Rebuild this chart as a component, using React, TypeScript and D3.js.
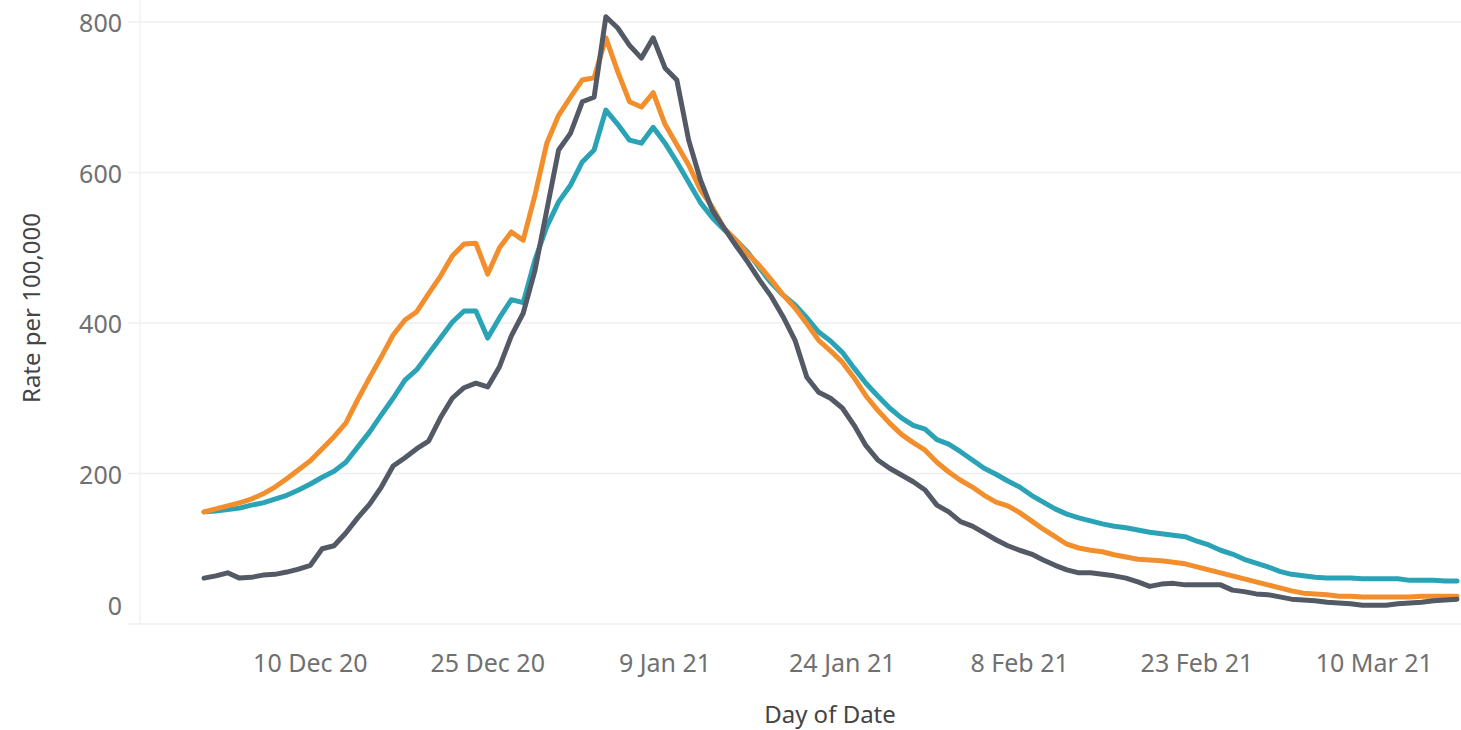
import React from "react";
import * as d3 from "d3";

const startDate = new Date(Date.UTC(2020, 11, 1));
const dayCount = 107;

const grayValues = [
  61, 64, 68, 61, 62, 65, 66, 69, 73, 78,
  100, 104, 121, 141, 159, 182, 210, 221, 233, 243,
  274, 300, 314, 320, 315, 342, 383, 413, 470, 550,
  630, 652, 694, 700, 807, 792, 769, 752, 779, 739,
  723, 643, 590, 550, 526, 503, 481, 457, 435, 408,
  377, 328, 308, 300, 287, 264, 237, 218, 207, 198,
  189, 178, 158, 149, 136, 130, 121, 112, 104, 98,
  93, 85, 78, 72, 68, 68, 66, 64, 61, 56,
  50, 53, 54, 52, 52, 52, 52, 45, 43, 40,
  39, 36, 33, 32, 31, 29, 28, 27, 25, 25,
  25, 27, 28, 29, 31, 32, 33,
];

const orangeValues = [
  149, 153, 157, 161, 166, 173, 182, 193, 205, 217,
  233, 249, 267, 298, 327, 355, 384, 404, 415, 439,
  462, 489, 505, 506, 465, 500, 521, 510, 570, 639,
  676, 700, 723, 726, 779, 734, 694, 687, 706, 664,
  637, 610, 577, 554, 526, 510, 492, 476, 457, 437,
  420, 399, 377, 363, 348, 327, 303, 284, 267, 252,
  241, 231, 215, 202, 191, 182, 171, 162, 157, 148,
  137, 126, 116, 106, 101, 98, 96, 92, 89, 86,
  85, 84, 82, 80, 76, 72, 68, 64, 60, 56,
  52, 48, 44, 41, 40, 39, 37, 37, 36, 36,
  36, 36, 36, 37, 37, 37, 37,
];

const tealValues = [
  149, 150, 152, 154, 158, 161, 166, 171, 178, 186,
  195, 203, 215, 235, 255, 278, 300, 324, 338, 359,
  380, 401, 416, 416, 380, 407, 431, 427, 484, 528,
  561, 583, 614, 630, 683, 664, 643, 639, 660, 639,
  614, 587, 560, 540, 524, 510, 494, 473, 453, 437,
  424, 407, 388, 376, 361, 340, 320, 303, 287, 274,
  264, 259, 245, 239, 229, 218, 207, 199, 190, 182,
  171, 162, 153, 146, 141, 137, 133, 130, 128, 125,
  122, 120, 118, 116, 110, 105, 98, 93, 86, 81,
  76, 70, 66, 64, 62, 61, 61, 61, 60, 60,
  60, 60, 58, 58, 58, 57, 57,
];

const yTicks = [0, 200, 400, 600, 800];
const xTickDates = [
  new Date(Date.UTC(2020, 11, 10)),
  new Date(Date.UTC(2020, 11, 25)),
  new Date(Date.UTC(2021, 0, 9)),
  new Date(Date.UTC(2021, 0, 24)),
  new Date(Date.UTC(2021, 1, 8)),
  new Date(Date.UTC(2021, 1, 23)),
  new Date(Date.UTC(2021, 2, 10)),
];

const seriesList = [
  { name: "Teal", values: tealValues, color: "#2ba3b6" },
  { name: "Orange", values: orangeValues, color: "#f28e2b" },
  { name: "Gray", values: grayValues, color: "#535a65" },
];

const W = 1461;
const H = 730;

export default function App() {
  const dates = d3.utcDay.range(startDate, d3.utcDay.offset(startDate, dayCount));
  const x = d3
    .scaleUtc()
    .domain([startDate, d3.utcDay.offset(startDate, 106)])
    .range([204, 1457]);
  const y = d3.scaleLinear().domain([0, 800]).range([624, 22]);
  const fmt = d3.utcFormat("%-d %b %y");
  const line = d3
    .line<number>()
    .x((_, i) => x(dates[i]))
    .y((v) => y(v));

  const font = "'Noto Sans', 'Open Sans', sans-serif";

  return (
    <svg
      width={W}
      height={H}
      style={{ position: "absolute", left: 0, top: 0, background: "#fff" }}
      fontFamily={font}
    >
      {yTicks.map((t) => (
        <line key={"g" + t} x1={128} x2={W} y1={y(t)} y2={y(t)} stroke="#efefef" strokeWidth={1.5} />
      ))}
      <line x1={140} x2={140} y1={0} y2={624} stroke="#f2f2f2" strokeWidth={1.5} />
      {yTicks.map((t) => (
        <text
          key={"yl" + t}
          x={122}
          y={t === 0 ? 605 : y(t)}
          textAnchor="end"
          dominantBaseline="central"
          fontSize={25}
          fill="#707070"
        >
          {t}
        </text>
      ))}
      {xTickDates.map((d) => (
        <text
          key={"xl" + d.getTime()}
          x={x(d)}
          y={662}
          textAnchor="middle"
          dominantBaseline="central"
          fontSize={25}
          fill="#707070"
        >
          {fmt(d)}
        </text>
      ))}
      <text x={830} y={713} textAnchor="middle" dominantBaseline="central" fontSize={24} fill="#444">
        Day of Date
      </text>
      <text
        transform="translate(30,308) rotate(-90)"
        textAnchor="middle"
        dominantBaseline="central"
        fontSize={24}
        fill="#444"
      >
        Rate per 100,000
      </text>
      {seriesList.map((s) => (
        <path
          key={s.name}
          d={line(s.values) || ""}
          fill="none"
          stroke={s.color}
          strokeWidth={5}
          strokeLinejoin="round"
          strokeLinecap="round"
        />
      ))}
    </svg>
  );
}
